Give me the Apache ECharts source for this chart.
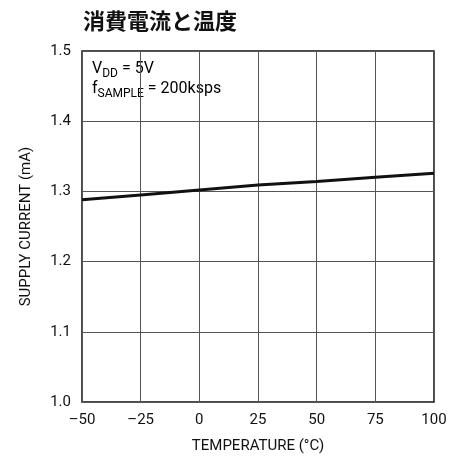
<!DOCTYPE html>
<html><head><meta charset="utf-8">
<script src="https://cdn.jsdelivr.net/npm/echarts@6/dist/echarts.min.js"></script>
<style>html,body{margin:0;padding:0;background:#fff}#c{width:466px;height:461px}</style>
</head><body><div id="c"></div>
<script>
var titleText = '消費電流と温度';
var xName = 'TEMPERATURE (°C)';
var yName = 'SUPPLY CURRENT (mA)';
var temps = [-50, -25, 0, 25, 50, 75, 100];
var current = [1.288, 1.295, 1.302, 1.309, 1.314, 1.320, 1.326];
var xTicks = [-50, -25, 0, 25, 50, 75, 100];
var yTicks = [1.0, 1.1, 1.2, 1.3, 1.4, 1.5];

var FONT = '"Liberation Sans Narrow", "Roboto", sans-serif';
var chart = echarts.init(document.getElementById('c'), null, {renderer: 'canvas'});
chart.setOption({
  animation: false,
  title: {
    text: titleText, left: 78, top: 5,
    textStyle: {fontFamily: '"Noto Sans CJK JP"', fontSize: 22, fontWeight: 'bold', color: '#111'}
  },
  grid: {left: 82, top: 51, width: 352, height: 351, show: true, borderColor: '#111', borderWidth: 1.5, backgroundColor: 'transparent'},
  xAxis: {
    type: 'value', min: -50, max: 100, interval: 25,
    name: xName, nameLocation: 'middle', nameGap: 37,
    nameTextStyle: {fontFamily: FONT, fontSize: 15, color: '#111'},
    axisLine: {show: false}, axisTick: {show: false},
    axisLabel: {fontFamily: FONT, fontSize: 15, color: '#111', margin: 11,
      formatter: function (v) { return String(v).replace('-', '\u2013'); }},
    splitLine: {show: true, lineStyle: {color: '#555', width: 1}}
  },
  yAxis: {
    type: 'value', min: 1.0, max: 1.5, interval: 0.1,
    name: yName, nameLocation: 'middle', nameGap: 48,
    nameTextStyle: {fontFamily: FONT, fontSize: 15, color: '#111'},
    axisLine: {show: false}, axisTick: {show: false},
    axisLabel: {fontFamily: FONT, fontSize: 15, color: '#111', margin: 11,
      formatter: function (v) { return v.toFixed(1); }},
    splitLine: {show: true, lineStyle: {color: '#555', width: 1}}
  },
  series: [{
    type: 'line', data: temps.map(function (t, i) { return [t, current[i]]; }),
    showSymbol: false, lineStyle: {color: '#111', width: 3}
  }],
  graphic: [{
    type: 'text', left: 92, top: 61,
    style: {
      text: '{m|V}{s|DD}{m| = 5V}\n{m|f}{s|SAMPLE}{m| = 200ksps}',
      rich: {
        m: {fontFamily: FONT, fontSize: 16, color: '#111', lineHeight: 20, verticalAlign: 'top'},
        s: {fontFamily: FONT, fontSize: 12, color: '#111', lineHeight: 20, verticalAlign: 'top', padding: [7, 0, 0, 0]}
      }
    }
  }]
});
</script></body></html>
